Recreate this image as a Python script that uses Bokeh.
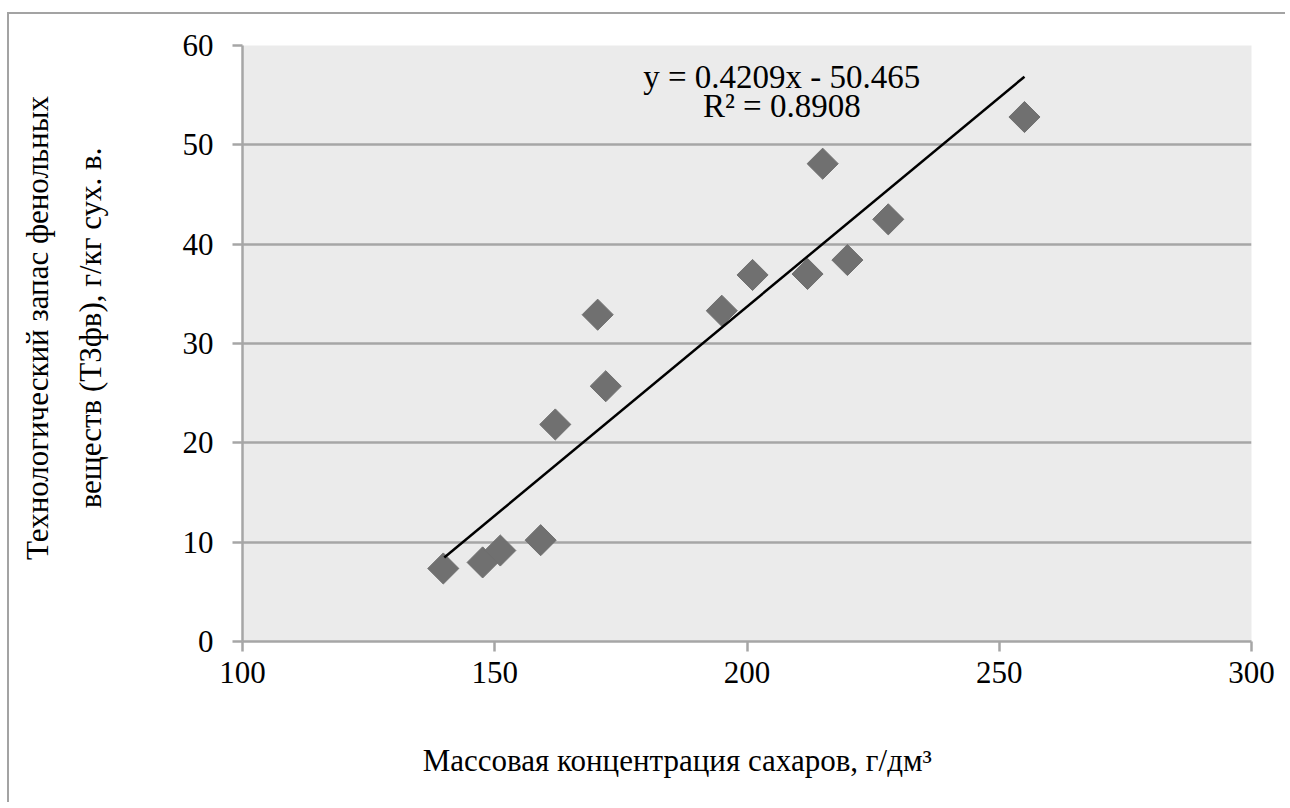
import math
from bokeh.plotting import figure
from bokeh.models import Label, FixedTicker, ColumnDataSource
from bokeh.embed import file_html
from bokeh.resources import INLINE

# data
sugar = [139.8, 147.6, 151.1, 159.1, 162.0, 170.4, 172.0, 195.0, 201.1, 212.0, 215.0, 219.9, 228.0, 255.0]
phenol = [7.35, 7.96, 9.16, 10.2, 21.85, 32.9, 25.7, 33.3, 36.9, 37.0, 48.1, 38.4, 42.5, 52.8]
trend_x = [140.0, 255.0]
trend_y = [8.46, 56.86]
x_ticks = [100, 150, 200, 250, 300]
y_ticks = [0, 10, 20, 30, 40, 50, 60]
eq_text = "y = 0.4209x - 50.465"
r2_text = "R² = 0.8908"
x_title = "Массовая концентрация сахаров, г/дм³"
y_title_lines = ["Технологический запас фенольных", "веществ (ТЗфв), г/кг сух. в."]

FONT = "Liberation Serif"
GRAY = "#a6a6a6"
NB = "\u00a0"

p = figure(width=1278, height=790, output_backend="svg", toolbar_location=None,
           x_range=(100, 300), y_range=(0, 60),
           min_border_left=233, min_border_top=31, min_border_right=36, min_border_bottom=163)
p.styles = {"border-top": "2px solid #a3a3a3", "border-left": "2px solid #a3a3a3",
            "margin-top": "12px", "margin-left": "7px"}

p.background_fill_color = "#ebebeb"
p.border_fill_color = "white"
p.outline_line_color = None

p.xgrid.visible = False
p.ygrid.grid_line_color = GRAY
p.ygrid.grid_line_width = 2.5
p.ygrid.ticker = FixedTicker(ticks=y_ticks)

for ax in (p.xaxis[0], p.yaxis[0]):
    ax.axis_line_color = GRAY
    ax.axis_line_width = 2.5
    ax.major_tick_line_color = GRAY
    ax.major_tick_line_width = 2.5
    ax.major_tick_in = 0
    ax.major_tick_out = 10
    ax.minor_tick_line_color = None
    ax.major_label_text_font = FONT
    ax.major_label_text_font_size = "31px"
    ax.major_label_text_color = "black"
    ax.axis_label_text_font = FONT
    ax.axis_label_text_font_size = "31px"
    ax.axis_label_text_font_style = "normal"
    ax.axis_label_text_color = "black"

p.xaxis[0].ticker = FixedTicker(ticks=x_ticks)
p.yaxis[0].ticker = FixedTicker(ticks=y_ticks)
p.xaxis[0].major_label_standoff = 10
p.yaxis[0].major_label_standoff = 19

# title texts padded with no-break spaces so they sit off-centre like the reference
p.xaxis[0].axis_label = x_title + NB * 18
p.xaxis[0].axis_label_standoff = 57
p.yaxis[0].axis_label = "\n".join(NB * 4 + s for s in y_title_lines)
p.yaxis[0].axis_label_standoff = 72
p.yaxis[0].axis_label_text_line_height = 1.5

src = ColumnDataSource(dict(x=sugar, y=phenol))
p.scatter("x", "y", source=src, marker="square", size=22, angle=math.pi / 4,
          fill_color="#707070", line_color="#707070")
p.line(trend_x, trend_y, line_color="black", line_width=2.5)

p.add_layout(Label(x=206.9, y=56.8, text=eq_text, text_align="center", text_baseline="middle",
                   text_font=FONT, text_font_size="33px", text_color="black"))
p.add_layout(Label(x=206.9, y=53.9, text=r2_text, text_align="center", text_baseline="middle",
                   text_font=FONT, text_font_size="33px", text_color="black"))

open("out.html", "w").write(file_html(p, INLINE))
